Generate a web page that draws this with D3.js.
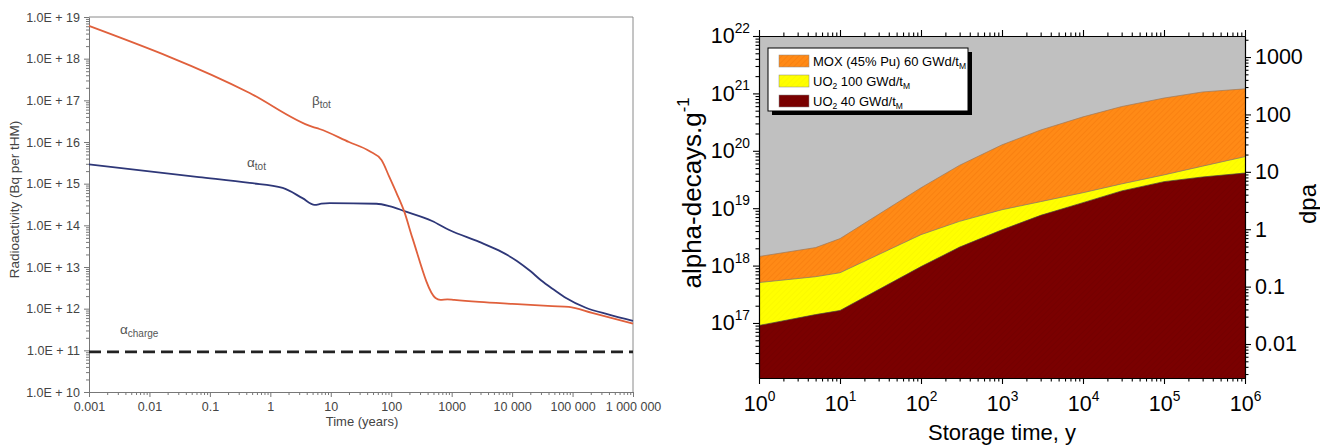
<!DOCTYPE html>
<html><head><meta charset="utf-8">
<script src="https://cdn.jsdelivr.net/npm/d3@7"></script>
<style>body{margin:0;background:#fff} svg{display:block}</style>
</head><body><svg id="c" width="1320" height="446"></svg>
<script>
// ---------- LEFT PANEL DATA ----------
const betaTime  = [0.001, 0.455, 5.0, 6.5, 20, 44, 69, 93, 122, 165, 224, 540, 650, 850, 1100, 2860, 1e4, 4.6e4, 8.7e4, 2.1e5, 1e6];
const betaValue = [6.1e18, 1.5e17, 2.3e16, 2.05e16, 1.0e16, 6.0e15, 3.7e15, 1.45e15, 6e14, 2.1e14, 5e13, 1.8e12, 1.62e12, 1.68e12, 1.62e12, 1.45e12, 1.3e12, 1.15e12, 1.1e12, 7.9e11, 4.4e11];
const alphaTime  = [0.001, 0.066, 0.455, 1.6, 3.4, 5.4, 7, 9.6, 57, 93, 165, 475, 913, 2860, 6000, 1.2e4, 2e4, 3e4, 5e4, 7.8e4, 1.66e5, 4e5, 1e6];
const alphaValue = [2.9e15, 1.44e15, 1.04e15, 7.9e14, 4.5e14, 3.1e14, 3.3e14, 3.4e14, 3.3e14, 2.9e14, 2.2e14, 1.27e14, 7.7e13, 4e13, 2.5e13, 1.4e13, 8e12, 4.8e12, 2.8e12, 1.8e12, 1.05e12, 7.2e11, 5.1e11];
const alphaChargeValue = 9.2e10;
const leftXTicks = [1e-3, 1e-2, 1e-1, 1, 10, 100, 1e3, 1e4, 1e5, 1e6];
const leftXTickLabels = ["0.001", "0.01", "0.1", "1", "10", "100", "1000", "10 000", "100 000", "1 000 000"];
const leftYExponents = [10, 11, 12, 13, 14, 15, 16, 17, 18, 19];

// ---------- RIGHT PANEL DATA ----------
const storageTime   = [1, 5, 10, 100, 300, 1000, 3000, 1e4, 3e4, 1e5, 3e5, 1e6];
const moxValues     = [1.44e18, 2.06e18, 2.95e18, 2.27e19, 5.6e19, 1.27e20, 2.3e20, 3.9e20, 5.9e20, 8.3e20, 1.06e21, 1.2e21];
const uo2HighValues = [5.06e17, 6.4e17, 7.5e17, 3.46e18, 5.9e18, 9.4e18, 1.3e19, 1.86e19, 2.65e19, 3.8e19, 5.4e19, 7.9e19];
const uo2LowValues  = [9.05e16, 1.4e17, 1.65e17, 9.6e17, 2.1e18, 4.2e18, 7.5e18, 1.25e19, 2.0e19, 2.9e19, 3.5e19, 4.1e19];
const rightXExponents = [0, 1, 2, 3, 4, 5, 6];
const rightYExponents = [17, 18, 19, 20, 21, 22];
const dpaTicks = [0.01, 0.1, 1, 10, 100, 1000];
const dpaTickLabels = ["0.01", "0.1", "1", "10", "100", "1000"];
const dpaPerDecay = 1 / 4.3e18;
const legendLabels = [
  {main: "MOX (45% Pu) 60 GWd/t", sub: "M"},
  {pre: "UO", preSub: "2", main: " 100 GWd/t", sub: "M"},
  {pre: "UO", preSub: "2", main: " 40 GWd/t", sub: "M"}
];

const svg = d3.select("#c");
const FONT = "'Liberation Sans', Arial, sans-serif";

function minorTicks(lo, hi) {
  const out = [];
  for (let e = Math.floor(Math.log10(lo)) - 1; e <= Math.ceil(Math.log10(hi)); e++) {
    for (let m = 2; m <= 9; m++) {
      const v = m * Math.pow(10, e);
      if (v >= lo * 0.999 && v <= hi * 1.001) out.push(v);
    }
  }
  return out;
}

// ================= LEFT PANEL =================
const L = {x0: 89, x1: 633, y0: 17, y1: 392};
const lx = d3.scaleLog().domain([1e-3, 1e6]).range([L.x0, L.x1]);
const ly = d3.scaleLog().domain([1e10, 1e19]).range([L.y1, L.y0]);
const left = svg.append("g");

left.append("path").attr("d", `M${L.x0},${L.y0}H${L.x1}V${L.y1}`)
  .attr("fill", "none").attr("stroke", "#8a8a8a").attr("stroke-width", 1);

left.append("g").attr("transform", `translate(${L.x0},0)`)
  .call(d3.axisLeft(ly).tickValues(leftYExponents.map(e => Math.pow(10, e)))
    .tickFormat(d => "1.0E + " + Math.round(Math.log10(d))).tickSize(5).tickSizeOuter(0).tickPadding(4));
left.append("g").attr("transform", `translate(${L.x0},0)`)
  .call(d3.axisLeft(ly).tickValues(minorTicks(1e10, 1e19)).tickFormat("").tickSize(3).tickSizeOuter(0))
  .select(".domain").remove();
left.append("g").attr("transform", `translate(0,${L.y1})`)
  .call(d3.axisBottom(lx).tickValues(leftXTicks).tickFormat((d, i) => leftXTickLabels[i]).tickSize(5).tickSizeOuter(0).tickPadding(5));
left.append("g").attr("transform", `translate(0,${L.y1})`)
  .call(d3.axisBottom(lx).tickValues(minorTicks(1e-3, 1e6)).tickFormat("").tickSize(3).tickSizeOuter(0))
  .select(".domain").remove();
left.selectAll(".domain, .tick line").attr("stroke", "#777");
left.selectAll(".tick text").attr("font-family", FONT).attr("font-size", 12.5).attr("fill", "#444");

left.append("text").attr("transform", `translate(19,${(L.y0 + L.y1) / 2 - 5}) rotate(-90)`)
  .attr("text-anchor", "middle").attr("font-family", FONT).attr("font-size", 13.5).attr("fill", "#444")
  .text("Radioactivity (Bq per tHM)");
left.append("text").attr("x", 362).attr("y", 426).attr("text-anchor", "middle")
  .attr("font-family", FONT).attr("font-size", 13).attr("fill", "#444").text("Time (years)");

const lline = d3.line().x(d => lx(d[0])).y(d => ly(d[1])).curve(d3.curveMonotoneX);
left.append("line").attr("x1", L.x0).attr("x2", L.x1)
  .attr("y1", ly(alphaChargeValue)).attr("y2", ly(alphaChargeValue))
  .attr("stroke", "#222").attr("stroke-width", 2.6).attr("stroke-dasharray", "12,6");
left.append("path").datum(d3.zip(alphaTime, alphaValue)).attr("d", lline)
  .attr("fill", "none").attr("stroke", "#2e3778").attr("stroke-width", 1.8);
left.append("path").datum(d3.zip(betaTime, betaValue)).attr("d", lline)
  .attr("fill", "none").attr("stroke", "#e0603c").attr("stroke-width", 1.8);

function subLabel(g, x, y, main, sub) {
  const t = g.append("text").attr("x", x).attr("y", y).attr("font-family", FONT)
    .attr("font-size", 13.5).attr("fill", "#555");
  t.append("tspan").text(main);
  t.append("tspan").attr("dy", 3).attr("font-size", 10).text(sub);
}
subLabel(left, 312, 105, "\u03B2", "tot");
subLabel(left, 247, 167, "\u03B1", "tot");
subLabel(left, 120, 334, "\u03B1", "charge");

// ================= RIGHT PANEL =================
const R = {x0: 759, x1: 1245, y0: 36, y1: 378};
const rx = d3.scaleLog().domain([1, 1e6]).range([R.x0, R.x1]);
const ry = d3.scaleLog().domain([1.1e16, 1e22]).range([R.y1, R.y0]);
const ry2 = d3.scaleLog().domain([1.1e16 * dpaPerDecay, 1e22 * dpaPerDecay]).range([R.y1, R.y0]);
const right = svg.append("g");

const defs = svg.append("defs");
function hatch(id, base, line, op) {
  const p = defs.append("pattern").attr("id", id).attr("patternUnits", "userSpaceOnUse")
    .attr("width", 4).attr("height", 4).attr("patternTransform", "rotate(45)");
  p.append("rect").attr("width", 4).attr("height", 4).attr("fill", base);
  p.append("line").attr("x1", 0).attr("y1", 0).attr("x2", 0).attr("y2", 4)
    .attr("stroke", line).attr("stroke-width", 1.2).attr("opacity", op);
}
hatch("hMox", "#ff8a16", "#f27408", 0.7);
hatch("hHigh", "#ffff00", "#f0ee00", 0.6);
hatch("hLow", "#7a0000", "#6c0000", 0.7);
defs.append("clipPath").attr("id", "rclip").append("rect")
  .attr("x", R.x0).attr("y", R.y0).attr("width", R.x1 - R.x0).attr("height", R.y1 - R.y0);

right.append("rect").attr("x", R.x0).attr("y", R.y0).attr("width", R.x1 - R.x0).attr("height", R.y1 - R.y0)
  .attr("fill", "#c0c0c0");
const plot = right.append("g").attr("clip-path", "url(#rclip)");
const area = d3.area().x(d => rx(d[0])).y0(R.y1 + 2).y1(d => ry(d[1]));
const edge = d3.line().x(d => rx(d[0])).y(d => ry(d[1]));
[[moxValues, "url(#hMox)", "#9a7a60"], [uo2HighValues, "url(#hHigh)", "#777"], [uo2LowValues, "url(#hLow)", "#444"]]
  .forEach(([vals, fill, st]) => {
    const data = d3.zip(storageTime, vals);
    plot.append("path").datum(data).attr("d", area).attr("fill", fill);
    plot.append("path").datum(data).attr("d", edge).attr("fill", "none").attr("stroke", st).attr("stroke-width", 0.7);
  });

function sup(sel, exp) {
  sel.each(function(d) {
    const t = d3.select(this);
    t.text("10");
    t.append("tspan").attr("dy", "-0.75em").attr("font-size", "0.64em").text(exp(d));
  });
}
const ryAx = right.append("g").attr("transform", `translate(${R.x0},0)`)
  .call(d3.axisLeft(ry).tickValues(rightYExponents.map(e => Math.pow(10, e))).tickSize(6).tickSizeOuter(0).tickPadding(3));
sup(ryAx.selectAll(".tick text"), d => Math.round(Math.log10(d)));
right.append("g").attr("transform", `translate(${R.x0},0)`)
  .call(d3.axisLeft(ry).tickValues(minorTicks(1.1e16, 1e22)).tickFormat("").tickSize(3.5).tickSizeOuter(0));
const rxAx = right.append("g").attr("transform", `translate(0,${R.y1})`)
  .call(d3.axisBottom(rx).tickValues(rightXExponents.map(e => Math.pow(10, e))).tickSize(6).tickSizeOuter(0).tickPadding(12));
sup(rxAx.selectAll(".tick text"), d => Math.round(Math.log10(d)));
right.append("g").attr("transform", `translate(0,${R.y1})`)
  .call(d3.axisBottom(rx).tickValues(minorTicks(1, 1e6)).tickFormat("").tickSize(3.5).tickSizeOuter(0));
right.append("g").attr("transform", `translate(0,${R.y0})`)
  .call(d3.axisTop(rx).tickValues(rightXExponents.map(e => Math.pow(10, e))).tickFormat("").tickSize(6).tickSizeOuter(0));
right.append("g").attr("transform", `translate(0,${R.y0})`)
  .call(d3.axisTop(rx).tickValues(minorTicks(1, 1e6)).tickFormat("").tickSize(3.5).tickSizeOuter(0));
right.append("g").attr("transform", `translate(${R.x1},0)`)
  .call(d3.axisRight(ry2).tickValues(dpaTicks).tickFormat((d, i) => dpaTickLabels[i]).tickSize(6).tickSizeOuter(0).tickPadding(4));
right.append("g").attr("transform", `translate(${R.x1},0)`)
  .call(d3.axisRight(ry2).tickValues(minorTicks(1.1e16 * dpaPerDecay, 1e22 * dpaPerDecay)).tickFormat("").tickSize(3.5).tickSizeOuter(0));
right.selectAll(".domain, .tick line").attr("stroke", "#000").attr("stroke-width", 1.1);
right.selectAll(".tick text").attr("font-family", FONT).attr("font-size", 21.5).attr("fill", "#000");

const yt = right.append("text").attr("transform", `translate(701,193) rotate(-90)`)
  .attr("text-anchor", "middle").attr("font-family", FONT).attr("font-size", 26).attr("fill", "#000");
yt.append("tspan").text("alpha-decays.g");
yt.append("tspan").attr("dy", "-0.7em").attr("font-size", "0.64em").text("-1");
right.append("text").attr("x", (R.x0 + R.x1) / 2).attr("y", 440).attr("text-anchor", "middle")
  .attr("font-family", FONT).attr("font-size", 22).attr("fill", "#000").text("Storage time, y");
right.append("text").attr("transform", `translate(1316,204) rotate(-90)`)
  .attr("text-anchor", "middle").attr("font-family", FONT).attr("font-size", 24).attr("fill", "#000").text("dpa");

const lg = right.append("g");
lg.append("rect").attr("x", 772).attr("y", 52).attr("width", 200).attr("height", 63).attr("fill", "#000");
lg.append("rect").attr("x", 768).attr("y", 48).attr("width", 200).attr("height", 63)
  .attr("fill", "#fff").attr("stroke", "#000").attr("stroke-width", 1);
const fills = ["url(#hMox)", "url(#hHigh)", "url(#hLow)"];
legendLabels.forEach((lab, i) => {
  const yy = 55 + i * 20;
  lg.append("rect").attr("x", 779).attr("y", yy).attr("width", 30).attr("height", 12)
    .attr("fill", fills[i]).attr("stroke", "#888").attr("stroke-width", 0.5);
  const t = lg.append("text").attr("x", 813).attr("y", yy + 11).attr("font-family", FONT)
    .attr("font-size", 13).attr("fill", "#000");
  if (lab.pre) {
    t.append("tspan").text(lab.pre);
    t.append("tspan").attr("dy", 3).attr("font-size", 8.5).text(lab.preSub);
    t.append("tspan").attr("dy", -3).text(lab.main);
  } else {
    t.append("tspan").text(lab.main);
  }
  t.append("tspan").attr("dy", 3).attr("font-size", 8.5).text(lab.sub);
});
</script></body></html>
